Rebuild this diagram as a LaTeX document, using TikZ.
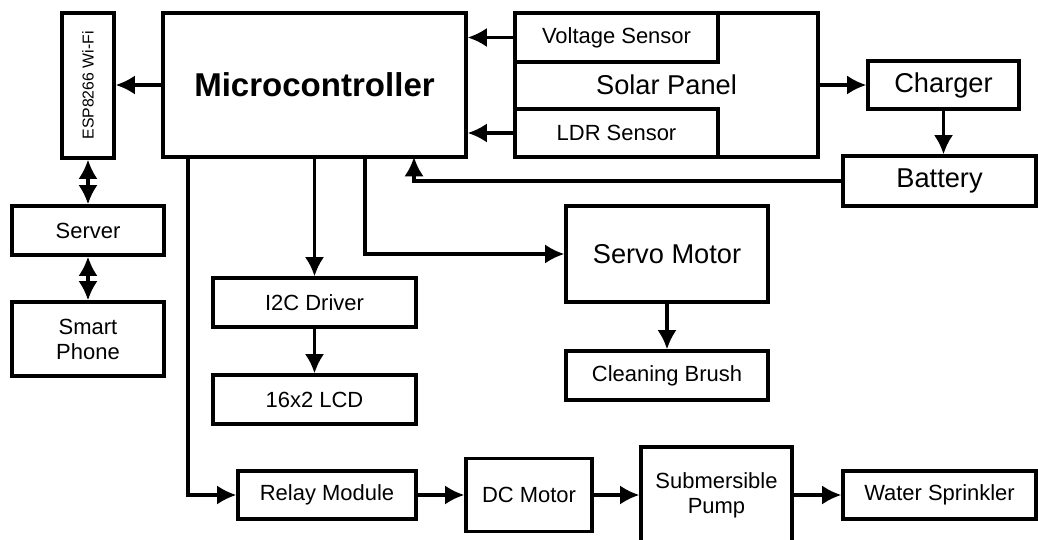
\documentclass[tikz,border=0pt]{standalone}
\usepackage{fontspec}
\setmainfont{Liberation Sans}
\usetikzlibrary{arrows.meta}
\tikzset{>={Latex[length=11pt,width=11pt]}}
\tikzset{
  blk/.style={draw, line width=1.9pt, inner sep=0pt, align=center,
    font=\fontsize{12.5}{14.2}\selectfont},
  bigtxt/.style={font=\fontsize{15.5}{18}\selectfont},
  conn/.style={line width=1.9pt, ->},
  dconn/.style={line width=1.9pt, <->},
}

\begin{document}
\begin{tikzpicture}[x=0.02cm, y=-0.02cm]
    \clip (0,0) rectangle (1038,540);

    % top row
    \node[blk, minimum width=1.04cm, minimum height=2.9cm] (esp) at (88,85.5)
        {\fontsize{9}{10}\selectfont\rotatebox{90}{ESP8266 Wi-Fi}};
    \node[blk, minimum width=6.06cm, minimum height=2.88cm,
        font=\fontsize{18.8}{22}\selectfont\bfseries] (micro) at (314.5,85) {Microcontroller};
    \node[blk, bigtxt, minimum width=6.06cm, minimum height=2.88cm] (solar) at (666.5,85) {Solar Panel};
    \node[blk, minimum width=4.06cm, minimum height=0.98cm] (volt) at (616.5,37.5) {Voltage Sensor};
    \node[blk, minimum width=4.06cm, minimum height=0.96cm] (ldr) at (616.5,133) {LDR Sensor};
    \node[blk, bigtxt, minimum width=3.02cm, minimum height=0.96cm] (charger) at (943.5,85) {Charger};
    \node[blk, bigtxt, minimum width=3.86cm, minimum height=1cm] (battery) at (939.5,181) {Battery};

    % left column
    \node[blk, minimum width=3.04cm, minimum height=0.98cm] (server) at (88,230.5) {Server};
    \node[blk, minimum width=3.04cm, minimum height=1.48cm] (phone) at (88,339) {Smart\\Phone};

    % display and servo
    \node[blk, minimum width=4.06cm, minimum height=0.98cm] (i2c) at (314.5,302.5) {I2C Driver};
    \node[blk, minimum width=4.06cm, minimum height=0.98cm] (lcd) at (314.5,399.5) {16x2 LCD};
    \node[blk, bigtxt, minimum width=4.04cm, minimum height=1.92cm] (servo) at (667,254) {Servo Motor};
    \node[blk, minimum width=4.04cm, minimum height=0.98cm] (brush) at (667,375.5) {Cleaning Brush};

    % bottom row
    \node[blk, minimum width=3.56cm, minimum height=0.96cm] (relay) at (327,495) {Relay Module};
    \node[blk, minimum width=2.52cm, minimum height=1.46cm] (dc) at (529,495) {DC Motor};
    \node[blk, minimum width=3.02cm, minimum height=1.92cm] (pump) at (716.5,495) {Submersible\\Pump};
    \node[blk, minimum width=3.86cm, minimum height=0.96cm] (sprinkler) at (939.5,495) {Water Sprinkler};

    \coordinate (relayout) at (188,157);
    \coordinate (servoout) at (365,157);
    \coordinate (battin) at (414,157);

    \draw[conn] (micro.west) -- (micro.west -| esp.east);
    \draw[conn] (volt.west) -- (volt.west -| micro.east);
    \draw[conn] (ldr.west) -- (ldr.west -| micro.east);
    \draw[conn] (solar.east) -- (charger.west);
    \draw[conn] (charger.south) -- (charger.south |- battery.north);
    \draw[conn] (battery.west) -| (battin);
    \draw[dconn] (esp.south) -- (server.north);
    \draw[dconn] (server.south) -- (phone.north);
    \draw[conn] (micro.south) -- (i2c.north);
    \draw[conn] (i2c.south) -- (lcd.north);
    \draw[conn] (servoout) |- (servo.west);
    \draw[conn] (servo.south) -- (brush.north);
    \draw[conn] (relayout) |- (relay.west);
    \draw[conn] (relay.east) -- (dc.west);
    \draw[conn] (dc.east) -- (pump.west);
    \draw[conn] (pump.east) -- (sprinkler.west);

\end{tikzpicture}
\end{document}
